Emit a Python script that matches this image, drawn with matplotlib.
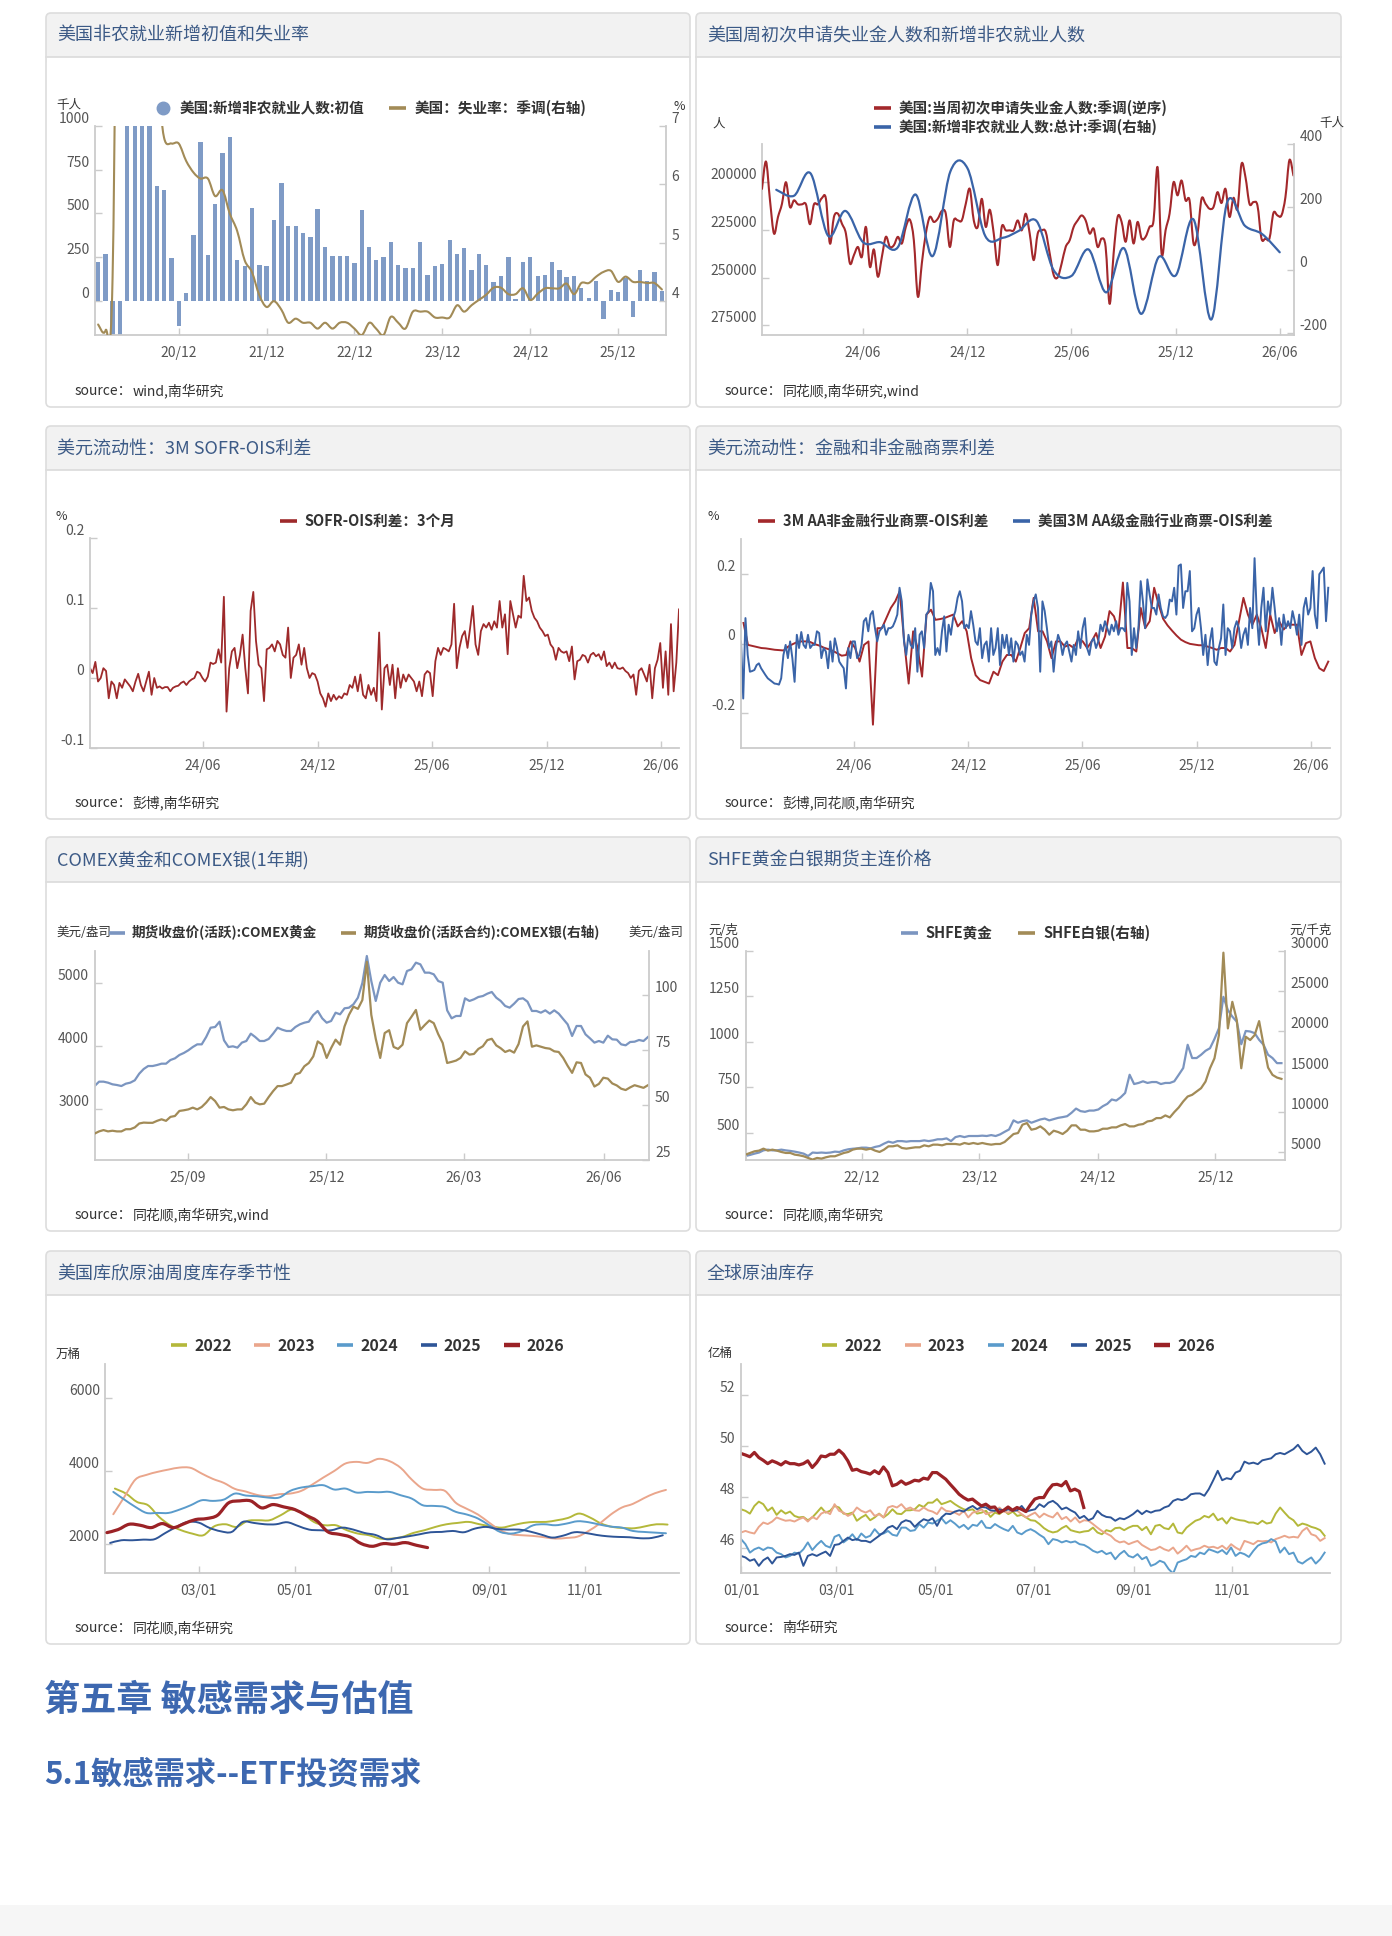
import numpy as np
import pandas as pd
import matplotlib
matplotlib.use('Agg')
import matplotlib.pyplot as plt
import matplotlib.dates as mdates
from matplotlib.patches import FancyBboxPatch, Rectangle, PathPatch
from matplotlib.path import Path
from matplotlib.lines import Line2D
from matplotlib.ticker import FuncFormatter, FixedLocator

plt.rcParams['font.family'] = ['Noto Sans CJK SC', 'DejaVu Sans']
plt.rcParams['axes.unicode_minus'] = False

# ------------------------------------------------------------------ data
# Panel 1: monthly nonfarm payrolls (initial, thousand) and unemployment rate (%)
nfp_months = pd.date_range('2020-01-01', periods=78, freq='MS')
nfp_initial = [225, 270, -701, -20500, 2509, 4800, 1763, 1371, 658, 632, 244, -143,
               44, 374, 910, 261, 555, 845, 939, 231, 197, 529, 206, 200,
               464, 674, 429, 429, 387, 368, 525, 311, 258, 258, 258, 219,
               517, 309, 233, 252, 336, 206, 187, 187, 336, 147, 200, 212,
               349, 269, 303, 174, 269, 206, 107, 143, 250, 13, 225, 250,
               143, 147, 225, 174, 135, 143, 71, 19, 116, -105, 63, 52,
               130, -90, 174, 115, 168, 57]
unemp_rate = [3.6, 3.5, 4.4, 14.8, 13.2, 11.0, 10.2, 8.4, 7.8, 6.8, 6.7, 6.7,
              6.4, 6.2, 6.1, 6.1, 5.8, 5.9, 5.5, 5.2, 4.7, 4.5, 4.1, 3.9,
              4.0, 3.85, 3.63, 3.7, 3.63, 3.63, 3.53, 3.63, 3.53, 3.63, 3.63, 3.53,
              3.42, 3.63, 3.53, 3.42, 3.73, 3.63, 3.53, 3.82, 3.82, 3.82, 3.72, 3.72,
              3.72, 3.93, 3.82, 3.93, 4.02, 4.11, 4.23, 4.23, 4.12, 4.12, 4.22, 4.02,
              4.13, 4.22, 4.22, 4.22, 4.3, 4.12, 4.31, 4.31, 4.42, 4.5, 4.52, 4.33,
              4.42, 4.33, 4.33, 4.31, 4.31, 4.2]

# Panel 2: weekly initial claims (persons, inverted axis) and monthly payrolls (thousand)
claims_start = '2023-12-07'
initial_claims = [203500, 189200, 209500, 226900, 218200, 211300, 200000, 213000, 209500, 211600,
                  211600, 211600, 222000, 211600, 211600, 208300, 208700, 232100, 218200, 216500,
                  221700, 226900, 242500, 238200, 233900, 239100, 223400, 244300, 235200, 249500,
                  239100, 228600, 233900, 233000, 228600, 232100, 223400, 219600, 230400, 259900,
                  242500, 226900, 218200, 220800, 219100, 215100, 216500, 233900, 220000, 220000,
                  220000, 211300, 203500, 220000, 223400, 208700, 223400, 214400, 226900, 243400,
                  223400, 225200, 225200, 225200, 220000, 225200, 216500, 226900, 240800, 226900,
                  225200, 226000, 237300, 248600, 249800, 242500, 233900, 230400, 223400, 220000,
                  217400, 220000, 226900, 224300, 233900, 229500, 233900, 263700, 237300, 218200,
                  220800, 231200, 220000, 232100, 220800, 229500, 228600, 223400, 220000, 192200,
                  237300, 225200, 216500, 200000, 206900, 199100, 209500, 209500, 232100, 226900,
                  208700, 211300, 213900, 213000, 205200, 210900, 203500, 218200, 208200, 213900,
                  190500, 197400, 211300, 210400, 212200, 229500, 229500, 229500, 216100, 217400,
                  217400, 207800, 188400, 196500]
payroll_months = pd.date_range('2024-01-01', periods=30, freq='MS')
payroll_total = [255, 236, 307, 109, 188, 89, 89, 73, 240, 45, 313, 323, 109, 103, 125,
                 156, 0, -18, 66, -70, 70, -138, 42, -16, 161, -156, 216, 141, 115, 57]

# Panel 3: 3M SOFR-OIS spread (%), evenly sampled 2023-12-04 .. 2026-06-30
sofr_ois = [0.014, 0.007, 0.023, -0.005, 0.0, 0.014, 0.010, -0.029, -0.005, -0.010,
            -0.029, -0.007, -0.014, -0.002, -0.007, -0.012, -0.019, -0.005, 0.006, -0.010,
            -0.019, -0.005, 0.009, -0.024, 0.0, -0.014, -0.012, -0.015, -0.013, -0.013,
            -0.019, -0.014, -0.012, -0.011, -0.007, -0.005, -0.010, -0.005, -0.002, 0.0,
            0.009, 0.007, 0.0, -0.005, 0.002, 0.022, 0.020, 0.022, 0.041, 0.022,
            0.116, -0.048, 0.014, 0.038, 0.043, 0.014, 0.033, 0.062, 0.014, -0.022,
            0.096, 0.123, 0.053, 0.019, 0.014, -0.033, 0.041, 0.043, 0.048, 0.038,
            0.053, 0.048, 0.033, 0.029, 0.072, 0.0, 0.029, 0.033, 0.048, 0.019,
            0.043, 0.014, 0.0, 0.007, 0.005, -0.005, -0.022, -0.029, -0.041, -0.022,
            -0.033, -0.024, -0.031, -0.026, -0.029, -0.022, -0.024, -0.010, -0.014, 0.002,
            -0.019, 0.005, -0.024, -0.029, -0.010, -0.024, -0.014, -0.033, 0.065, -0.045,
            0.014, 0.019, -0.010, 0.019, -0.029, 0.014, -0.014, 0.005, -0.005, 0.005,
            0.0, -0.005, -0.019, -0.005, -0.026, 0.005, 0.010, 0.007, -0.026, 0.024,
            0.043, 0.033, 0.043, 0.041, 0.038, 0.048, 0.106, 0.014, 0.043, 0.060,
            0.067, 0.043, 0.072, 0.103, 0.048, 0.033, 0.067, 0.077, 0.072, 0.079,
            0.069, 0.081, 0.072, 0.110, 0.072, 0.091, 0.034, 0.110, 0.091, 0.072,
            0.089, 0.086, 0.146, 0.110, 0.115, 0.096, 0.086, 0.081, 0.072, 0.067,
            0.060, 0.062, 0.048, 0.043, 0.026, 0.043, 0.038, 0.036, 0.038, 0.024,
            0.045, -0.002, 0.024, 0.026, 0.033, 0.031, 0.022, 0.033, 0.036, 0.031,
            0.034, 0.026, 0.038, 0.017, 0.022, 0.014, 0.022, 0.014, 0.013, 0.015,
            0.010, 0.007, 0.0, 0.005, -0.024, 0.010, 0.014, 0.005, -0.005, 0.019,
            -0.029, 0.014, 0.026, 0.050, -0.014, 0.038, -0.024, 0.077, -0.019, 0.022, 0.098]

# Panel 4: CP-OIS spreads (%)
cp_nonfin = [0.059, -0.004, -0.007, -0.010, -0.013, -0.014, -0.016, -0.018, -0.019, -0.020,
             -0.009, -0.002, 0.004, 0.006, 0.006, 0.004, -0.002, -0.006, -0.012, -0.016,
             -0.021, -0.028, -0.035, -0.033, 0.006, -0.013, -0.052, -0.004, 0.006, -0.233,
             0.044, 0.044, 0.073, 0.102, 0.121, 0.150, 0.006, -0.115, 0.035, -0.013,
             -0.095, 0.083, 0.097, 0.068, 0.070, 0.073, 0.078, 0.083, 0.049, 0.064,
             0.035, -0.042, -0.091, -0.105, -0.110, -0.115, -0.081, -0.091, -0.052, -0.033,
             -0.033, -0.052, -0.013, 0.030, 0.044, 0.131, 0.035, 0.035, 0.006, -0.042,
             0.006, 0.006, -0.009, -0.004, -0.013, 0.015, 0.006, -0.013, 0.006, 0.030,
             -0.013, 0.020, 0.093, 0.078, 0.035, 0.175, -0.013, -0.013, -0.023, 0.102,
             0.044, 0.064, 0.160, 0.112, 0.071, 0.052, 0.037, 0.023, 0.011, 0.004,
             -0.001, -0.003, -0.005, -0.005, -0.009, -0.013, -0.018, -0.013, -0.013, -0.023,
             -0.004, 0.064, 0.131, 0.083, 0.054, 0.083, 0.044, -0.013, 0.083, 0.030,
             0.064, 0.040, 0.054, 0.054, 0.054, -0.033, 0.001, 0.006, -0.042, -0.071,
             -0.079, -0.052]
cp_fin = [0.006, -0.158, 0.073, -0.033, -0.081, -0.079, -0.076, -0.062, -0.057, -0.071,
          -0.081, -0.091, -0.100, -0.105, -0.110, -0.115, -0.116, -0.118, -0.100, -0.033,
          -0.004, -0.042, 0.006, -0.042, -0.110, 0.025, -0.013, 0.033, -0.004, -0.013,
          0.025, -0.013, -0.004, -0.004, 0.035, 0.030, -0.042, -0.013, -0.023, -0.071,
          0.006, -0.052, 0.015, -0.013, -0.052, -0.062, -0.071, -0.129, -0.013, -0.042,
          0.006, 0.006, -0.042, -0.033, -0.004, 0.064, 0.073, 0.035, 0.083, 0.093,
          0.044, 0.006, 0.035, 0.044, 0.054, 0.025, 0.044, 0.044, 0.049, 0.064,
          0.083, 0.160, 0.121, 0.006, -0.033, 0.025, -0.004, -0.013, 0.044, -0.081,
          0.025, 0.035, -0.013, 0.083, 0.093, 0.174, 0.150, -0.033, -0.013, -0.033,
          0.035, 0.078, -0.023, 0.054, 0.025, 0.073, 0.093, 0.131, 0.150, 0.121,
          0.044, 0.054, 0.044, 0.093, 0.054, 0.006, -0.004, 0.044, -0.042, -0.004,
          0.006, -0.052, 0.044, -0.033, -0.013, 0.044, -0.062, 0.025, -0.013, 0.025,
          -0.033, 0.015, -0.052, 0.006, -0.004, -0.033, -0.023, -0.052, 0.025, -0.004,
          0.083, 0.121, 0.141, 0.102, -0.081, 0.121, 0.093, 0.044, -0.013, 0.006,
          -0.081, -0.013, 0.025, 0.006, -0.033, -0.004, 0.006, -0.023, -0.052, -0.004,
          -0.033, 0.035, -0.013, 0.044, 0.073, -0.013, -0.033, 0.006, 0.015, -0.013,
          0.006, 0.054, 0.035, 0.064, 0.044, 0.025, 0.054, 0.035, 0.064, 0.025,
          0.044, 0.044, 0.035, 0.174, 0.121, -0.033, 0.044, -0.013, 0.044, 0.179,
          0.121, 0.044, 0.184, 0.141, 0.102, 0.102, 0.083, 0.141, 0.102, 0.078,
          0.073, 0.083, 0.126, 0.121, 0.160, 0.083, 0.223, 0.227, 0.102, 0.150,
          0.150, 0.208, 0.035, 0.044, 0.083, 0.102, 0.044, -0.033, 0.025, -0.062,
          0.006, 0.044, -0.052, -0.062, -0.013, 0.015, 0.112, -0.033, 0.044, 0.035,
          -0.013, 0.044, 0.064, 0.044, -0.013, 0.025, 0.044, -0.004, 0.102, 0.044,
          0.245, 0.083, -0.004, 0.102, 0.160, 0.035, 0.121, 0.083, 0.160, 0.102,
          0.035, 0.073, -0.004, 0.083, 0.044, 0.064, 0.044, 0.093, 0.064, 0.025,
          0.083, -0.004, 0.102, 0.131, 0.083, 0.102, 0.208, 0.083, 0.044, 0.199,
          0.208, 0.218, 0.064, 0.160]

# Panel 5: COMEX gold (USD/oz) and silver (USD/oz, right axis), 2025-07-02 .. 2026-06-30
comex_gold = [3368, 3437, 3437, 3421, 3395, 3384, 3368, 3405, 3421, 3458,
              3563, 3637, 3684, 3684, 3700, 3721, 3721, 3779, 3805, 3858,
              3890, 3932, 3984, 4026, 4026, 4142, 4289, 4300, 4384, 4089,
              3984, 3995, 3974, 4053, 4079, 4195, 4142, 4079, 4079, 4111,
              4195, 4289, 4258, 4237, 4237, 4300, 4342, 4368, 4384, 4489,
              4553, 4437, 4368, 4395, 4526, 4500, 4595, 4605, 4658, 4763,
              4995, 5421, 5026, 4711, 5000, 5121, 5026, 5089, 5000, 4974,
              5184, 5211, 5316, 5289, 5158, 5158, 5132, 5026, 5000, 4563,
              4437, 4474, 4474, 4753, 4711, 4737, 4774, 4789, 4826, 4853,
              4763, 4711, 4632, 4605, 4668, 4742, 4753, 4700, 4553, 4553,
              4526, 4563, 4511, 4563, 4511, 4426, 4342, 4158, 4316, 4316,
              4184, 4121, 4053, 4079, 4053, 4163, 4105, 4100, 4026, 4011,
              4063, 4068, 4095, 4079, 4142]
comex_silver = [37.0, 38.0, 38.6, 38.0, 38.3, 38.0, 38.0, 39.0, 39.0, 39.8,
                41.6, 42.0, 41.9, 41.9, 42.8, 43.5, 42.8, 44.6, 45.0, 47.3,
                47.6, 48.0, 48.8, 48.0, 49.1, 51.1, 53.6, 51.8, 48.8, 49.1,
                48.0, 47.6, 48.0, 48.0, 50.3, 53.6, 51.1, 50.3, 50.6, 53.6,
                56.3, 58.6, 58.6, 59.3, 60.1, 63.9, 64.6, 67.6, 69.1, 72.1,
                78.9, 77.4, 71.4, 75.9, 79.7, 77.4, 85.7, 91.0, 94.7, 93.7,
                97.7, 115.1, 91.0, 80.1, 71.4, 82.7, 84.0, 76.4, 75.5, 77.4,
                87.2, 90.1, 93.2, 84.2, 86.4, 88.4, 87.2, 82.2, 78.2, 69.1,
                69.6, 70.2, 71.4, 74.4, 72.9, 73.2, 75.5, 76.7, 79.5, 80.1,
                77.1, 75.8, 74.1, 74.9, 73.8, 77.7, 85.7, 88.0, 76.5, 77.1,
                76.5, 75.9, 75.6, 74.4, 74.1, 71.4, 67.8, 64.6, 69.4, 69.1,
                63.9, 62.4, 58.4, 59.6, 62.4, 62.0, 59.8, 58.9, 57.4, 56.8,
                58.0, 59.0, 58.4, 57.8, 59.0]

# Panel 6: SHFE gold (CNY/g) and silver (CNY/kg, right axis), 2021-12-06 .. 2026-06-24
shfe_gold = [372, 378, 385, 391, 403, 407, 403, 403, 407, 403,
             400, 396, 391, 385, 372, 391, 389, 391, 389, 391,
             396, 394, 403, 409, 412, 414, 418, 418, 414, 422,
             427, 440, 451, 445, 454, 454, 451, 454, 454, 454,
             458, 454, 458, 464, 464, 469, 454, 476, 482, 476,
             482, 482, 482, 484, 482, 487, 482, 491, 505, 518,
             568, 555, 564, 568, 555, 564, 573, 578, 568, 575,
             582, 586, 591, 610, 633, 619, 615, 622, 622, 628,
             646, 659, 683, 677, 695, 719, 819, 768, 774, 783,
             774, 779, 779, 768, 774, 774, 783, 819, 856, 984,
             911, 911, 929, 951, 965, 1016, 1075, 1248, 1175, 1139,
             1111, 987, 1060, 1057, 1048, 1011, 984, 929, 911, 883,
             883]
shfe_silver = [4669, 4876, 5083, 5165, 5413, 5165, 5289, 5165, 5000, 4876,
               4876, 4669, 4587, 4463, 4256, 4050, 4256, 4174, 4339, 4463,
               4463, 4669, 4876, 5000, 5289, 5413, 5413, 5289, 5413, 5165,
               5000, 5289, 5702, 5702, 5826, 5496, 5413, 5496, 5578, 5578,
               5826, 5702, 5909, 5909, 5826, 5992, 5992, 5992, 5909, 6116,
               5992, 6116, 5992, 6116, 5992, 5909, 5992, 5992, 6240, 6735,
               7231, 7355, 8388, 8595, 7768, 7892, 8182, 7768, 7149, 7645,
               7479, 7231, 7645, 8306, 8306, 7768, 7768, 7562, 7562, 7645,
               7892, 7892, 8058, 8058, 8306, 8471, 8182, 8182, 8388, 8471,
               8801, 8884, 9215, 9215, 9545, 9297, 9958, 10537, 11281, 11900,
               12107, 12520, 12933, 13760, 15413, 16652, 19545, 29792, 20371, 23676,
               21404, 15413, 19338, 18925, 19545, 21280, 18305, 15495, 14586, 14256,
               14090]

# Panel 7: Cushing weekly crude inventory (10k barrels), seasonal
years = ['2022', '2023', '2024', '2025', '2026']
cushing_first_week = {'2022': '2001-01-07', '2023': '2001-01-06', '2024': '2001-01-06',
                      '2025': '2001-01-04', '2026': '2001-01-02'}
cushing_2022 = [3517, 3379, 3149, 3057, 2736, 2506, 2368, 2276, 2230, 2478,
                2533, 2460, 2625, 2644, 2644, 2782, 2938, 2828, 2598, 2506,
                2506, 2368, 2276, 2230, 2138, 2138, 2184, 2294, 2368, 2460,
                2533, 2570, 2598, 2533, 2478, 2441, 2506, 2570, 2598, 2598,
                2644, 2708, 2828, 2717, 2552, 2460, 2432, 2423, 2478, 2533, 2524]
cushing_2023 = [2809, 3287, 3765, 3894, 3977, 4041, 4096, 4087, 3931, 3784,
                3673, 3508, 3434, 3342, 3306, 3361, 3379, 3453, 3627, 3821,
                4004, 4207, 4253, 4225, 4336, 4271, 4087, 3765, 3517, 3480,
                3453, 3122, 2956, 2800, 2579, 2368, 2257, 2230, 2211, 2175,
                2138, 2156, 2193, 2349, 2552, 2800, 2993, 3094, 3251, 3388, 3480]
cushing_2024 = [3425, 3214, 3011, 2846, 2846, 2846, 2938, 3057, 3195, 3177,
                3214, 3379, 3324, 3306, 3269, 3269, 3453, 3545, 3582, 3609,
                3490, 3517, 3407, 3425, 3416, 3425, 3333, 3241, 3057, 3039,
                3011, 2874, 2800, 2690, 2506, 2322, 2276, 2349, 2506, 2533,
                2506, 2552, 2616, 2589, 2524, 2469, 2441, 2349, 2322, 2303, 2285]
cushing_2025 = [2018, 2092, 2092, 2110, 2120, 2294, 2460, 2598, 2579, 2432,
                2340, 2322, 2598, 2570, 2533, 2533, 2589, 2487, 2386, 2368,
                2368, 2441, 2386, 2294, 2239, 2120, 2156, 2202, 2257, 2313,
                2322, 2349, 2313, 2414, 2460, 2405, 2386, 2386, 2331, 2248,
                2166, 2221, 2313, 2294, 2239, 2202, 2184, 2175, 2147, 2156, 2230]
cushing_2026 = [2303, 2386, 2533, 2506, 2441, 2552, 2441, 2552, 2662, 2690,
                2782, 3122, 3177, 3177, 2984, 3076, 3011, 2938, 2782, 2625,
                2322, 2257, 2184, 2000, 1926, 2000, 1982, 2028, 1954, 1890]

# Panel 8: global crude inventory (100m barrels), seasonal, evenly sampled
global_2022 = [47.50, 47.44, 47.33, 47.63, 47.80, 47.70, 47.44, 47.57, 47.28, 47.46,
               47.33, 47.41, 47.24, 47.18, 47.20, 47.07, 47.18, 47.37, 47.57, 47.37,
               47.44, 47.63, 47.57, 47.33, 47.31, 47.37, 47.05, 47.18, 47.28, 47.07,
               47.18, 47.33, 47.18, 47.31, 47.50, 47.33, 47.31, 47.46, 47.46, 47.50,
               47.67, 47.59, 47.76, 47.76, 47.90, 47.70, 47.76, 47.83, 47.70, 47.59,
               47.50, 47.46, 47.50, 47.33, 47.37, 47.44, 47.20, 47.37, 47.31, 47.46,
               47.31, 47.41, 47.24, 47.28, 47.18, 47.07, 47.05, 46.92, 46.76, 46.65,
               46.59, 46.63, 46.76, 46.85, 46.68, 46.63, 46.59, 46.63, 46.65, 46.78,
               46.59, 46.52, 46.68, 46.63, 46.76, 46.78, 46.68, 46.78, 46.85, 46.85,
               46.68, 46.81, 46.52, 46.85, 46.89, 46.76, 46.72, 46.94, 46.59, 46.55,
               46.78, 46.92, 47.05, 47.11, 47.24, 47.18, 47.33, 47.07, 47.15, 46.94,
               47.18, 47.11, 47.07, 47.05, 46.98, 46.98, 46.92, 47.05, 46.94, 46.98,
               47.33, 47.57, 47.37, 47.18, 47.07, 46.85, 46.94, 46.89, 46.81, 46.76,
               46.68, 46.46]
global_2023 = [46.59, 46.65, 46.59, 46.55, 46.81, 46.98, 46.92, 47.02, 47.18, 47.11,
               47.05, 47.07, 47.02, 47.11, 47.18, 47.02, 47.20, 47.11, 47.33, 47.41,
               47.31, 47.70, 47.44, 47.37, 47.24, 47.33, 47.57, 47.44, 47.37, 47.46,
               47.24, 47.31, 47.18, 47.57, 47.63, 47.57, 47.70, 47.50, 47.57, 47.46,
               47.44, 47.57, 47.46, 47.41, 47.31, 47.57, 47.44, 47.41, 47.37, 47.28,
               47.44, 47.18, 47.37, 47.41, 47.50, 47.31, 47.37, 47.44, 47.57, 47.41,
               47.37, 47.46, 47.44, 47.31, 47.18, 47.28, 47.37, 47.18, 47.33, 47.24,
               47.18, 47.37, 47.11, 47.20, 47.02, 47.18, 46.98, 47.07, 47.05, 46.92,
               46.78, 46.65, 46.55, 46.46, 46.29, 46.20, 46.24, 46.13, 46.20, 46.26,
               46.10, 46.00, 45.90, 45.93, 46.03, 45.93, 45.87, 46.00, 45.76, 45.90,
               46.07, 45.87, 45.93, 45.97, 46.07, 46.00, 46.03, 45.97, 46.07, 45.93,
               46.13, 46.00, 45.90, 46.26, 46.20, 46.13, 46.26, 46.24, 46.26, 46.20,
               46.33, 46.39, 46.46, 46.39, 46.42, 46.39, 46.65, 46.78, 46.52, 46.46,
               46.26, 46.37]
global_2024 = [46.33, 46.13, 45.80, 45.93, 46.00, 45.90, 46.00, 45.97, 45.80, 45.74,
               45.61, 45.67, 45.80, 45.76, 45.93, 46.20, 45.90, 46.10, 46.26, 46.07,
               46.00, 46.42, 46.50, 46.20, 46.33, 46.52, 46.29, 46.55, 46.39, 46.46,
               46.72, 46.52, 46.55, 46.65, 46.50, 46.46, 46.78, 46.78, 46.65, 46.68,
               46.92, 46.78, 46.98, 46.94, 47.05, 47.15, 46.94, 47.07, 46.94, 46.78,
               46.89, 46.72, 46.89, 46.85, 47.05, 46.78, 46.76, 46.92, 46.81, 46.72,
               46.65, 46.85, 46.59, 46.52, 46.65, 46.72, 46.63, 46.50, 46.39, 46.13,
               46.33, 46.29, 46.20, 46.26, 46.20, 46.24, 46.13, 46.10, 46.00, 45.87,
               45.80, 45.87, 45.74, 45.80, 45.54, 45.74, 45.87, 45.67, 45.61, 45.74,
               45.54, 45.63, 45.28, 45.35, 45.48, 45.41, 45.15, 44.98, 45.41, 45.48,
               45.54, 45.67, 45.63, 45.80, 45.74, 45.93, 45.87, 45.80, 45.90, 45.74,
               46.00, 45.67, 45.80, 45.74, 45.63, 45.87, 46.07, 46.16, 46.20, 46.33,
               46.24, 45.80, 46.00, 45.74, 45.80, 45.45, 45.37, 45.50, 45.61, 45.37,
               45.54, 45.80]
global_2025 = [45.67, 45.61, 45.48, 45.54, 45.28, 45.50, 45.61, 45.37, 45.61, 45.63,
               45.67, 45.74, 45.71, 45.80, 45.28, 45.67, 45.74, 45.67, 45.76, 45.84,
               45.67, 46.10, 46.13, 46.26, 46.39, 46.29, 46.33, 46.26, 46.26, 46.20,
               46.33, 46.46, 46.59, 46.78, 46.85, 46.72, 46.98, 47.07, 47.02, 46.81,
               46.98, 47.11, 47.05, 47.15, 46.85, 47.18, 47.33, 47.31, 47.41, 47.46,
               47.41, 47.54, 47.63, 47.50, 47.59, 47.57, 47.46, 47.44, 47.50, 47.44,
               47.50, 47.44, 47.46, 47.63, 47.41, 47.46, 47.50, 47.70, 47.59, 47.76,
               47.83, 47.70, 47.50, 47.57, 47.46, 47.37, 47.15, 47.24, 47.07, 47.15,
               47.44, 47.28, 47.20, 47.18, 47.05, 47.15, 47.11, 47.20, 47.31, 47.46,
               47.31, 47.44, 47.37, 47.44, 47.46, 47.57, 47.63, 47.83, 47.90, 47.86,
               47.93, 48.09, 48.12, 48.12, 48.03, 48.29, 48.64, 49.01, 48.64, 48.72,
               48.68, 48.94, 49.01, 49.37, 49.29, 49.33, 49.27, 49.42, 49.46, 49.50,
               49.66, 49.71, 49.66, 49.76, 49.86, 50.03, 49.79, 49.66, 49.76, 49.92,
               49.66, 49.29]
global_2026 = [49.69, 49.63, 49.56, 49.73, 49.53, 49.42, 49.29, 49.40, 49.33, 49.24,
               49.37, 49.29, 49.29, 49.24, 49.29, 49.40, 49.14, 49.33, 49.59, 49.56,
               49.66, 49.66, 49.82, 49.66, 49.40, 49.03, 49.07, 48.98, 48.94, 48.88,
               49.01, 48.90, 49.16, 48.94, 48.42, 48.48, 48.61, 48.48, 48.55, 48.64,
               48.61, 48.72, 48.68, 48.94, 48.94, 48.81, 48.68, 48.48, 48.29, 48.09,
               47.96, 47.86, 47.90, 47.76, 47.63, 47.70, 47.57, 47.59, 47.37, 47.46,
               47.59, 47.46, 47.57, 47.50, 47.41, 47.67, 47.90, 47.96, 47.96, 48.25,
               48.46, 48.48, 48.42, 48.59, 48.22, 48.29, 48.20, 47.57]

# ------------------------------------------------------------------ styling
C_BAR = '#7f9bc6'
C_KHAKI = '#a28b57'
C_RED = '#a3282b'
C_BLUE = '#3a64a8'
C_GOLD = '#7b95c0'
YEAR_COL = {'2022': '#b4b83a', '2023': '#eaa68c', '2024': '#5a9bcb',
            '2025': '#2e5597', '2026': '#9b2226'}
GR = '#cbcbcb'
TC = '#555555'
TITLE_C = '#3c5a86'

W, H = 1392, 1936
fig = plt.figure(figsize=(W / 100, H / 100), dpi=100)
bg = fig.add_axes([0, 0, 1, 1])
bg.set_xlim(0, W)
bg.set_ylim(H, 0)
bg.axis('off')


def new_ax(l, t, r, b):
    return fig.add_axes([l / W, 1 - b / H, (r - l) / W, (b - t) / H])


def panel(x0, y0, x1, y1, hb, title, src):
    bg.add_patch(FancyBboxPatch((x0, y0), x1 - x0, y1 - y0,
                                boxstyle='round,pad=0,rounding_size=5',
                                fc='white', ec='none', zorder=1))
    bg.add_patch(FancyBboxPatch((x0, y0), x1 - x0, hb - y0 + 8,
                                boxstyle='round,pad=0,rounding_size=5',
                                fc='#f2f2f2', ec='none', zorder=2))
    bg.add_patch(Rectangle((x0 + 1, hb), x1 - x0 - 2, 12, fc='white', ec='none', zorder=3))
    bg.plot([x0, x1], [hb, hb], color='#dadada', lw=1.2, zorder=4)
    bg.add_patch(FancyBboxPatch((x0, y0), x1 - x0, y1 - y0,
                                boxstyle='round,pad=0,rounding_size=5',
                                fc='none', ec='#dddddd', lw=1.2, zorder=5))
    bg.text(x0 + 11, (y0 + hb) / 2 + 1, title, fontsize=13, color=TITLE_C,
            va='center', ha='left', zorder=6)
    t = bg.text(x0 + 29, y1 - 16, 'source：', fontsize=10, color='#333333',
                va='center', ha='left', zorder=6)
    bg.annotate(src, xy=(1, 0.5), xycoords=t, va='center', ha='left',
                fontsize=10, color='#333333', style='italic', zorder=6)


def unit(x, y, s, ha='left'):
    bg.text(x, y, s, fontsize=9, color='#333333', va='center', ha=ha, zorder=6)


yfmt = FuncFormatter(lambda v, p: f'{v:g}')


def style(ax):
    ax.set_facecolor('none')
    ax.spines['top'].set_visible(False)
    ax.spines['right'].set_visible(False)
    for s in ('left', 'bottom'):
        ax.spines[s].set_color(GR)
        ax.spines[s].set_linewidth(1.3)
    ax.tick_params(axis='both', direction='in', length=5, width=1, color=GR,
                   labelsize=10, labelcolor=TC)
    ax.tick_params(axis='x', pad=8)
    ax.tick_params(axis='y', pad=4)
    ax.yaxis.set_major_formatter(yfmt)


def style_twin(ax2):
    ax2.set_facecolor('none')
    for s in ('top', 'left', 'bottom'):
        ax2.spines[s].set_visible(False)
    ax2.spines['right'].set_color(GR)
    ax2.spines['right'].set_linewidth(1.3)
    ax2.tick_params(axis='y', direction='in', length=5, width=1, color=GR,
                    labelsize=10, labelcolor=TC, pad=4)
    ax2.yaxis.set_major_formatter(yfmt)


def date_ticks(ax, ticks, fmt):
    ax.xaxis.set_major_locator(FixedLocator(mdates.date2num(pd.to_datetime(ticks).to_numpy())))
    ax.xaxis.set_major_formatter(mdates.DateFormatter(fmt))


def smooth(ax, x, y, color, lw, z=3):
    xs = mdates.date2num(pd.to_datetime(x).to_numpy())
    P = np.column_stack([xs, np.asarray(y, float)])
    Pm = np.vstack([P[0], P, P[-1]])
    verts = [P[0]]
    codes = [Path.MOVETO]
    for i in range(len(P) - 1):
        p0, p1, p2, p3 = Pm[i], Pm[i + 1], Pm[i + 2], Pm[i + 3]
        verts += [p1 + (p2 - p0) / 6.0, p2 - (p3 - p1) / 6.0, p2]
        codes += [Path.CURVE4] * 3
    ax.add_patch(PathPatch(Path(verts, codes), fill=False, ec=color, lw=lw,
                           capstyle='round', joinstyle='round', zorder=z))


def legend(ax, handles, labels, x, y, ncol, fs=10.5, hl=1.15, cs=1.7, htp=0.55, ls=0.15):
    lg = ax.legend(handles, labels, loc='center left', bbox_to_anchor=(x / W, 1 - y / H),
                   bbox_transform=fig.transFigure, ncol=ncol, frameon=False, borderpad=0,
                   borderaxespad=0, handlelength=hl, handletextpad=htp, columnspacing=cs,
                   labelspacing=ls, prop={'size': fs, 'weight': 'bold'})
    for t in lg.get_texts():
        t.set_color('#333333')
    return lg


def lh(c, lw=2.6):
    return Line2D([], [], color=c, lw=lw, solid_capstyle='butt')


all_axes = []

# ------------------------------------------------------------------ panels
LX0, LX1, RX0, RX1 = 46, 690, 696, 1341
rows = [(13, 57, 407), (426, 470, 819), (837, 882, 1231), (1251, 1295, 1644)]

panel(LX0, rows[0][0], LX1, rows[0][2], rows[0][1], '美国非农就业新增初值和失业率', 'wind,南华研究')
panel(RX0, rows[0][0], RX1, rows[0][2], rows[0][1], '美国周初次申请失业金人数和新增非农就业人数', '同花顺,南华研究,wind')
panel(LX0, rows[1][0], LX1, rows[1][2], rows[1][1], '美元流动性：3M SOFR-OIS利差', '彭博,南华研究')
panel(RX0, rows[1][0], RX1, rows[1][2], rows[1][1], '美元流动性：金融和非金融商票利差', '彭博,同花顺,南华研究')
panel(LX0, rows[2][0], LX1, rows[2][2], rows[2][1], 'COMEX黄金和COMEX银(1年期)', '同花顺,南华研究,wind')
panel(RX0, rows[2][0], RX1, rows[2][2], rows[2][1], 'SHFE黄金白银期货主连价格', '同花顺,南华研究')
panel(LX0, rows[3][0], LX1, rows[3][2], rows[3][1], '美国库欣原油周度库存季节性', '同花顺,南华研究')
panel(RX0, rows[3][0], RX1, rows[3][2], rows[3][1], '全球原油库存', '南华研究')

# ---- Panel 1
ax = new_ax(95, 126, 666, 335)
ax.bar(nfp_months, nfp_initial, width=18, color=C_BAR, zorder=2)
ax.set_ylim(-195, 1000)
ax.set_yticks([0, 250, 500, 750, 1000])
ax.set_xlim(pd.Timestamp('2019-12-19'), pd.Timestamp('2026-06-18'))
date_ticks(ax, ['2020-12-01', '2021-12-01', '2022-12-01', '2023-12-01', '2024-12-01', '2025-12-01'], '%y/%m')
style(ax)
ax2 = ax.twinx()
smooth(ax2, nfp_months, unemp_rate, C_KHAKI, 1.5)
ax2.set_ylim(3.42, 7)
ax2.set_yticks([4, 5, 6, 7])
style_twin(ax2)
legend(ax2, [Line2D([], [], marker='o', ls='none', color=C_BAR, markersize=9), lh(C_KHAKI)],
       ['美国:新增非农就业人数:初值', '美国：失业率：季调(右轴)'], 155, 108, 2)
unit(56, 106, '千人')
unit(673, 106, '%')
all_axes += [ax, ax2]

# ---- Panel 2
claims_dates = pd.date_range(claims_start, periods=len(initial_claims), freq='7D')
ax = new_ax(762, 144, 1294, 335)
ax.plot(claims_dates, initial_claims, lw=0)
smooth(ax, claims_dates, initial_claims, C_RED, 1.5)
ax.set_ylim(280000, 180000)
ax.set_yticks([200000, 225000, 250000, 275000])
ax.set_xlim(pd.Timestamp('2023-12-07'), pd.Timestamp('2026-06-26'))
date_ticks(ax, ['2024-06-01', '2024-12-01', '2025-06-01', '2025-12-01', '2026-06-01'], '%y/%m')
style(ax)
ax2 = ax.twinx()
smooth(ax2, payroll_months, payroll_total, C_BLUE, 1.6)
ax2.set_ylim(-205, 400)
ax2.set_yticks([-200, 0, 200, 400])
style_twin(ax2)
legend(ax2, [lh(C_RED), lh(C_BLUE)],
       ['美国:当周初次申请失业金人数:季调(逆序)', '美国:新增非农就业人数:总计:季调(右轴)'],
       874, 117.5, 1)
unit(712, 124, '人')
unit(1319, 124, '千人')
all_axes += [ax, ax2]

# ---- Panel 3
sofr_dates = pd.date_range('2023-12-04', '2026-06-30', periods=len(sofr_ois))
ax = new_ax(90, 538, 679, 748)
ax.plot(sofr_dates, sofr_ois, color='#9e2a2b', lw=1.3)
ax.set_ylim(-0.1, 0.2)
ax.set_yticks([-0.1, 0, 0.1, 0.2])
ax.set_xlim(pd.Timestamp('2023-12-04'), pd.Timestamp('2026-06-30'))
date_ticks(ax, ['2024-06-01', '2024-12-01', '2025-06-01', '2025-12-01', '2026-06-01'], '%y/%m')
style(ax)
legend(ax, [lh('#9e2a2b')], ['SOFR-OIS利差：3个月'], 280, 521, 1)
unit(55, 517, '%')
all_axes += [ax]

# ---- Panel 4
nonfin_dates = pd.date_range('2023-12-08', '2026-06-29', periods=len(cp_nonfin))
fin_dates = pd.date_range('2023-12-04', '2026-06-29', periods=len(cp_fin))
ax = new_ax(741, 539, 1329.5, 748)
ax.plot(nonfin_dates, cp_nonfin, color=C_RED, lw=1.4)
ax.plot(fin_dates, cp_fin, color=C_BLUE, lw=1.4)
ax.set_ylim(-0.3, 0.3)
ax.set_yticks([-0.2, 0, 0.2])
ax.set_xlim(pd.Timestamp('2023-12-04'), pd.Timestamp('2026-07-01'))
date_ticks(ax, ['2024-06-01', '2024-12-01', '2025-06-01', '2025-12-01', '2026-06-01'], '%y/%m')
style(ax)
legend(ax, [lh(C_RED), lh(C_BLUE)], ['3M AA非金融行业商票-OIS利差', '美国3M AA级金融行业商票-OIS利差'],
       758, 521, 2)
unit(707, 517, '%')
all_axes += [ax]

# ---- Panel 5
comex_dates = pd.date_range('2025-07-02', '2026-06-30', periods=len(comex_gold))
ax = new_ax(94.6, 951, 649.5, 1160)
ax.plot(comex_dates, comex_gold, color=C_GOLD, lw=1.6)
ax.set_ylim(2200, 5500)
ax.set_yticks([3000, 4000, 5000])
ax.set_xlim(pd.Timestamp('2025-07-02'), pd.Timestamp('2026-07-01'))
date_ticks(ax, ['2025-09-01', '2025-12-01', '2026-03-01', '2026-06-01'], '%y/%m')
style(ax)
ax2 = ax.twinx()
ax2.plot(comex_dates, comex_silver, color=C_KHAKI, lw=1.6)
ax2.set_ylim(25, 120)
ax2.set_yticks([25, 50, 75, 100])
style_twin(ax2)
legend(ax2, [lh(C_GOLD), lh(C_KHAKI)],
       ['期货收盘价(活跃):COMEX黄金', '期货收盘价(活跃合约):COMEX银(右轴)'], 109, 933, 2,
       fs=9.8, cs=1.7)
unit(56, 933, '美元/盎司')
bg.text(628, 933, '美元/盎司', fontsize=9, color='#333333', va='center', ha='left', zorder=6)
all_axes += [ax, ax2]

# ---- Panel 6
shfe_dates = pd.date_range('2021-12-06', '2026-06-24', periods=len(shfe_gold))
ax = new_ax(745.6, 951, 1285, 1160)
ax.plot(shfe_dates, shfe_gold, color=C_GOLD, lw=1.6)
ax.set_ylim(350, 1500)
ax.set_yticks([500, 750, 1000, 1250, 1500])
ax.set_xlim(pd.Timestamp('2021-12-06'), pd.Timestamp('2026-07-05'))
date_ticks(ax, ['2022-12-01', '2023-12-01', '2024-12-01', '2025-12-01'], '%y/%m')
style(ax)
ax2 = ax.twinx()
ax2.plot(shfe_dates, shfe_silver, color=C_KHAKI, lw=1.6)
ax2.set_ylim(4000, 30000)
ax2.set_yticks([5000, 10000, 15000, 20000, 25000, 30000])
style_twin(ax2)
legend(ax2, [lh(C_GOLD), lh(C_KHAKI)], ['SHFE黄金', 'SHFE白银(右轴)'], 901, 933, 2, cs=1.75)
unit(708, 931, '元/克')
unit(1289, 931, '元/千克')
all_axes += [ax, ax2]

# ---- Panel 7
cushing = {'2022': cushing_2022, '2023': cushing_2023, '2024': cushing_2024,
           '2025': cushing_2025, '2026': cushing_2026}
ax = new_ax(105.4, 1364, 678.6, 1573)
for yr in years:
    d = pd.date_range(cushing_first_week[yr], periods=len(cushing[yr]), freq='7D')
    ax.plot(d, cushing[yr], lw=0)
    smooth(ax, d, cushing[yr], YEAR_COL[yr], 2.3 if yr == '2026' else 1.4)
ax.set_ylim(1190, 6950)
ax.set_yticks([2000, 4000, 6000])
ax.set_xlim(pd.Timestamp('2001-01-01'), pd.Timestamp('2001-12-30'))
date_ticks(ax, ['2001-03-01', '2001-05-01', '2001-07-01', '2001-09-01', '2001-11-01'], '%m/%d')
style(ax)
legend(ax, [lh(YEAR_COL[y], 3.2 if y == '2026' else 2.6) for y in years], years, 171, 1346, 5,
       fs=11.5, hl=1.0, cs=1.4, htp=0.45)
unit(56, 1354, '万桶')
all_axes += [ax]

# ---- Panel 8
glob = {'2022': global_2022, '2023': global_2023, '2024': global_2024,
        '2025': global_2025, '2026': global_2026}
ax = new_ax(741, 1364, 1329.5, 1573)
for yr in years:
    end = '2001-08-01' if yr == '2026' else '2001-12-28'
    d = pd.date_range('2001-01-01', end, periods=len(glob[yr]))
    ax.plot(d, glob[yr], color=YEAR_COL[yr], lw=2.3 if yr == '2026' else 1.4)
ax.set_ylim(45, 53.2)
ax.set_yticks([46, 48, 50, 52])
ax.set_xlim(pd.Timestamp('2001-01-01'), pd.Timestamp('2001-12-31'))
date_ticks(ax, ['2001-01-01', '2001-03-01', '2001-05-01', '2001-07-01', '2001-09-01', '2001-11-01'], '%m/%d')
style(ax)
legend(ax, [lh(YEAR_COL[y], 3.2 if y == '2026' else 2.6) for y in years], years, 821.5, 1346, 5,
       fs=11.5, hl=1.0, cs=1.4, htp=0.45)
unit(708, 1354, '亿桶')
all_axes += [ax]

for a in all_axes:
    plt.setp(a.get_yticklabels(), va='bottom')

# ------------------------------------------------------------------ headings
bg.text(44, 1700, '第五章 敏感需求与估值', fontsize=26, fontweight='heavy', color='#3d68b0',
        va='center', ha='left')
bg.text(44, 1775, '5.1敏感需求--ETF投资需求', fontsize=22.5, fontweight='heavy', color='#3d68b0',
        va='center', ha='left')
bg.add_patch(Rectangle((0, 1905), W, 31, fc='#f6f6f6', ec='none', zorder=0))

fig.savefig('out.png', dpi=100)
